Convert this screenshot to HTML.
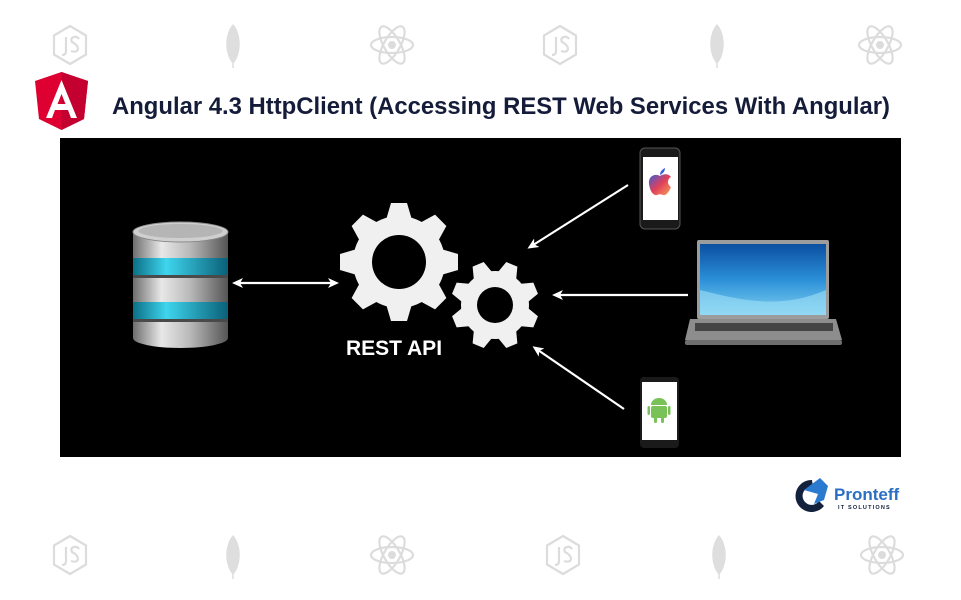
<!DOCTYPE html>
<html><head><meta charset="utf-8"><style>
html,body{margin:0;padding:0;background:#fff;}
svg{display:block;}
</style></head><body>
<svg width="961" height="600" viewBox="0 0 961 600" xmlns="http://www.w3.org/2000/svg">
<defs>
  <g id="js" fill="none" stroke="#dcdcdc" stroke-width="2.2">
    <polygon points="0,-19 16,-9.5 16,9.5 0,19 -16,9.5 -16,-9.5" stroke-linejoin="round"/>
    <path d="M-4,-8 V6 q0,4 -4,4" />
    <path d="M9,-6 q-2,-3 -5,-2 q-4,1 -2,5 q6,3 6,7 q-1,4 -7,2"/>
  </g>
  <g id="leaf">
    <path d="M0,-20 C9,-10 9,10 0,20 C-9,10 -9,-10 0,-20Z" fill="#dedede"/>
    <line x1="0" y1="18" x2="0" y2="24" stroke="#dedede" stroke-width="1.5"/>
  </g>
  <g id="react" fill="none" stroke="#dcdcdc" stroke-width="2.2">
    <ellipse rx="21" ry="8"/>
    <ellipse rx="21" ry="8" transform="rotate(60)"/>
    <ellipse rx="21" ry="8" transform="rotate(-60)"/>
    <circle r="4" fill="#dcdcdc" stroke="none"/>
  </g>
  <marker id="ah" markerWidth="11" markerHeight="10" refX="8" refY="5" orient="auto" markerUnits="userSpaceOnUse">
    <polygon points="0,0 11,5 0,10 3,5" fill="#fff"/>
  </marker>
  <marker id="ahs" markerWidth="11" markerHeight="10" refX="3" refY="5" orient="auto-start-reverse" markerUnits="userSpaceOnUse">
    <polygon points="0,0 11,5 0,10 3,5" fill="#fff"/>
  </marker>
  <linearGradient id="metal" x1="0" x2="1">
    <stop offset="0" stop-color="#6e6e6e"/><stop offset="0.3" stop-color="#e8e8e8"/><stop offset="0.6" stop-color="#b9b9b9"/><stop offset="1" stop-color="#555"/>
  </linearGradient>
  <linearGradient id="blue" x1="0" x2="1">
    <stop offset="0" stop-color="#0a6f86"/><stop offset="0.35" stop-color="#3fd5ee"/><stop offset="1" stop-color="#0a6078"/>
  </linearGradient>
  <linearGradient id="scr" x1="0" y1="0" x2="0" y2="1">
    <stop offset="0" stop-color="#0b4fa0"/><stop offset="0.5" stop-color="#2b8fd8"/><stop offset="1" stop-color="#7fd0f0"/>
  </linearGradient>
  <linearGradient id="apple" x1="0" y1="0" x2="1" y2="1">
    <stop offset="0" stop-color="#3a5ed8"/><stop offset="0.5" stop-color="#e0405a"/><stop offset="1" stop-color="#f6a05a"/>
  </linearGradient>
</defs>

<use href="#js" x="70" y="45"/><use href="#leaf" x="233" y="44"/><use href="#react" x="392" y="45"/>
<use href="#js" x="560" y="45"/><use href="#leaf" x="717" y="44"/><use href="#react" x="880" y="45"/>
<use href="#js" x="70" y="555"/><use href="#leaf" x="233" y="555"/><use href="#react" x="392" y="555"/>
<use href="#js" x="563" y="555"/><use href="#leaf" x="719" y="555"/><use href="#react" x="882" y="555"/>

<polygon points="61.5,72 88,81 84,119 61.5,130 39,119 35,81" fill="#dd0031"/>
<polygon points="61.5,72 88,81 84,119 61.5,130" fill="#c3002f"/>
<path d="M61.5,80 L46,118 H52 L55,110 H68 L71,118 H77 Z M57.5,104 L61.5,94 L65.5,104 Z" fill="#fff"/>

<text x="112" y="114" font-family="Liberation Sans, sans-serif" font-weight="bold" font-size="24" fill="#141c3a" textLength="778" lengthAdjust="spacingAndGlyphs">Angular 4.3 HttpClient (Accessing REST Web Services With Angular)</text>

<rect x="60" y="138" width="841" height="319" fill="#000"/>

<g>
  <rect x="133" y="232" width="95" height="106" fill="url(#metal)"/>
  <ellipse cx="180.5" cy="338" rx="47.5" ry="10" fill="url(#metal)"/>
  <rect x="133" y="258" width="95" height="17" fill="url(#blue)"/>
  <rect x="133" y="302" width="95" height="17" fill="url(#blue)"/>
  <rect x="133" y="275" width="95" height="3" fill="#4a4a4a"/>
  <rect x="133" y="319" width="95" height="3" fill="#4a4a4a"/>
  <ellipse cx="180.5" cy="232" rx="47.5" ry="10" fill="#cfcfcf" stroke="#888" stroke-width="1"/>
  <ellipse cx="180.5" cy="231" rx="42" ry="7" fill="#b5b5b5"/>
</g>

<g fill="#f0f0f0">
  <g transform="translate(399,262)">
    <circle r="46"/>
    <polygon points="-13,-42 -8,-59 8,-59 13,-42"/>
    <polygon points="-13,-42 -8,-59 8,-59 13,-42" transform="rotate(45)"/>
    <polygon points="-13,-42 -8,-59 8,-59 13,-42" transform="rotate(90)"/>
    <polygon points="-13,-42 -8,-59 8,-59 13,-42" transform="rotate(135)"/>
    <polygon points="-13,-42 -8,-59 8,-59 13,-42" transform="rotate(180)"/>
    <polygon points="-13,-42 -8,-59 8,-59 13,-42" transform="rotate(225)"/>
    <polygon points="-13,-42 -8,-59 8,-59 13,-42" transform="rotate(270)"/>
    <polygon points="-13,-42 -8,-59 8,-59 13,-42" transform="rotate(315)"/>
    <circle r="27" fill="#000"/>
  </g>
  <g transform="translate(495,305) rotate(22.5)">
    <circle r="34"/>
    <polygon points="-10,-31 -6,-44 6,-44 10,-31"/>
    <polygon points="-10,-31 -6,-44 6,-44 10,-31" transform="rotate(45)"/>
    <polygon points="-10,-31 -6,-44 6,-44 10,-31" transform="rotate(90)"/>
    <polygon points="-10,-31 -6,-44 6,-44 10,-31" transform="rotate(135)"/>
    <polygon points="-10,-31 -6,-44 6,-44 10,-31" transform="rotate(180)"/>
    <polygon points="-10,-31 -6,-44 6,-44 10,-31" transform="rotate(225)"/>
    <polygon points="-10,-31 -6,-44 6,-44 10,-31" transform="rotate(270)"/>
    <polygon points="-10,-31 -6,-44 6,-44 10,-31" transform="rotate(315)"/>
    <circle r="18" fill="#000"/>
  </g>
</g>
<text x="394" y="355" text-anchor="middle" font-family="Liberation Sans, sans-serif" font-weight="bold" font-size="21" fill="#fff">REST API</text>

<g stroke="#fff" stroke-width="2.2" fill="none">
  <line x1="240" y1="283" x2="336" y2="283" marker-end="url(#ah)" marker-start="url(#ahs)"/>
  <line x1="628" y1="185" x2="530" y2="247" marker-end="url(#ah)"/>
  <line x1="688" y1="295" x2="555" y2="295" marker-end="url(#ah)"/>
  <line x1="624" y1="409" x2="535" y2="348" marker-end="url(#ah)"/>
</g>

<rect x="640" y="148" width="40" height="81" rx="5" fill="#1a1a1a" stroke="#555" stroke-width="1"/>
<rect x="643" y="157" width="35" height="63" fill="#fff"/>
<path d="M660,176 c-5,-3 -12,0 -11,8 c1,8 5,12 8,11 c2,-1 4,-1 6,0 c3,1 6,-3 8,-8 c-4,-2 -4,-8 0,-10 c-3,-4 -8,-3 -11,-1z" fill="url(#apple)"/>
<path d="M660,175 c0,-4 3,-6 5,-7 c0,4 -3,6 -5,7z" fill="#3a5ed8"/>

<rect x="697" y="240" width="132" height="79" rx="2" fill="#9c9c9c"/>
<rect x="700" y="244" width="126" height="71" fill="url(#scr)"/>
<path d="M700,290 C740,300 780,310 826,290 V315 H700Z" fill="#9fe0f6" opacity="0.6"/>
<polygon points="690,319 836,319 842,340 685,340" fill="#8d8d8d"/>
<rect x="695" y="323" width="138" height="8" fill="#444"/>
<rect x="685" y="340" width="157" height="5" rx="2" fill="#6e6e6e"/>

<rect x="640" y="377" width="39" height="71" rx="4" fill="#1a1a1a"/>
<rect x="642" y="382" width="35" height="58" fill="#fff"/>
<g fill="#78c257">
  <path d="M651,405 a8,7 0 0 1 16,0z"/>
  <rect x="651" y="406" width="16" height="12" rx="2"/>
  <rect x="647.5" y="406" width="2.5" height="9" rx="1.2"/>
  <rect x="668" y="406" width="2.5" height="9" rx="1.2"/>
  <rect x="654" y="416" width="3" height="7" rx="1.5"/>
  <rect x="661" y="416" width="3" height="7" rx="1.5"/>
</g>

<g>
  <path d="M812,480 a16,16 0 1 0 12,26 l-5,-5 a9,9 0 1 1 -6,-14z" fill="#14213d"/>
  <path d="M804,490 l16,-12 l8,8 l-4,14 l-10,4 l4,-10 z" fill="#2a7ad0"/>
  <text x="834" y="500" font-family="Liberation Sans, sans-serif" font-weight="bold" font-size="17" fill="#2a6fc4">Pronteff</text>
  <text x="838" y="509" font-family="Liberation Sans, sans-serif" font-weight="bold" font-size="5.5" fill="#14213d" letter-spacing="1.2">IT SOLUTIONS</text>
</g>
</svg>
</body></html>
